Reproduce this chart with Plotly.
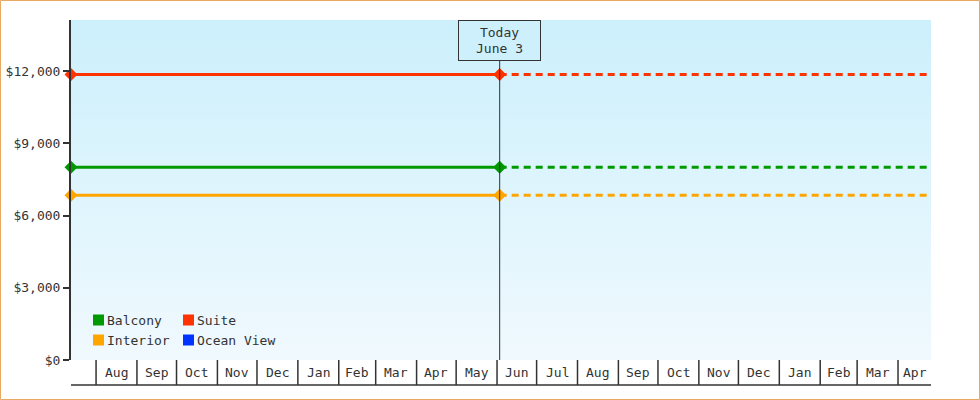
import base64
import pandas as pd
import plotly.graph_objects as go

# ---- data ----
categories = ["Balcony", "Suite", "Interior", "Ocean View"]
prices = [8000, 11860, 6840, None]
colors = ["#009900", "#ff3300", "#ffa500", "#0033ff"]
range_start = "2024-07-13"
today = "2025-06-03"
range_end = "2026-04-26"
today_label = "Today<br>June 3"
y_ticks = [0, 3000, 6000, 9000, 12000]
y_tick_labels = ["$0", "$3,000", "$6,000", "$9,000", "$12,000"]
y_max = 14120

# ---- layout geometry ----
W, H = 980, 400
ML, MR, MT, MB = 71, 49, 20, 40
PW, PH = W - ML - MR, H - MT - MB
FONT = "DejaVu Sans Mono"
DARK = "#333333"


def px_x(p):
    return (p - ML) / PW


def px_y(p):
    return (H - MB - p) / PH


fig = go.Figure()

for name, val, col in zip(categories, prices, colors):
    if val is None:
        continue
    fig.add_trace(go.Scatter(
        x=[range_start, today], y=[val, val], mode="lines+markers",
        line=dict(color=col, width=3), marker=dict(symbol="diamond", size=10, color=col),
        cliponaxis=False, showlegend=False, hoverinfo="skip"))
    fig.add_trace(go.Scatter(
        x=[today, range_end], y=[val, val], mode="lines",
        line=dict(color=col, width=3, dash="7px,5px"),
        cliponaxis=False, showlegend=False, hoverinfo="skip"))

shapes = []
annotations = []

# outer frame
shapes.append(dict(type="rect", xref="paper", yref="paper",
                   x0=px_x(0.5), x1=px_x(W - 0.5), y0=px_y(H - 0.5), y1=px_y(0.5),
                   line=dict(color="#e8a963", width=1), layer="below"))

# month band axis
rs, re_ = pd.Timestamp(range_start), pd.Timestamp(range_end)
month_starts = list(pd.date_range(rs, re_, freq="MS"))
edges = [rs] + month_starts + [re_]
band_h = 25 / PH
for m in month_starts:
    shapes.append(dict(type="line", xref="x", yref="paper", x0=m, x1=m,
                       y0=0, y1=-band_h, line=dict(color=DARK, width=1.5)))
shapes.append(dict(type="line", xref="paper", yref="paper", x0=0, x1=1,
                   y0=-band_h, y1=-band_h, line=dict(color=DARK, width=1.5)))
total_days = (re_ - rs).days
for a, b in zip(edges[:-1], edges[1:]):
    seg_px = (b - a).days / total_days * PW
    if seg_px < 30:
        continue
    mid = a + (b - a) / 2
    annotations.append(dict(x=mid, y=-band_h / 2, xref="x", yref="paper",
                            xanchor="center", yanchor="middle",
                            text=a.strftime("%b") if a.day == 1 else b.strftime("%b"),
                            showarrow=False, font=dict(family=FONT, size=13, color=DARK)))

# today line and box
shapes.append(dict(type="line", xref="x", yref="paper", x0=today, x1=today,
                   y0=0, y1=px_y(61), line=dict(color=DARK, width=1)))
annotations.append(dict(x=today, y=1, xref="x", yref="paper", xanchor="center", yanchor="top",
                        text=today_label, showarrow=False, width=79, height=37,
                        bgcolor="#cdf0fc", bordercolor=DARK, borderwidth=1, borderpad=1,
                        font=dict(family=FONT, size=13, color=DARK)))

# custom legend (2 columns)
leg_pos = [(93, 320), (183, 320), (93, 340), (183, 340)]
for (lx, ly), name, col in zip(leg_pos, categories, colors):
    shapes.append(dict(type="rect", xref="paper", yref="paper",
                       x0=px_x(lx), x1=px_x(lx + 11), y0=px_y(ly + 5.5), y1=px_y(ly - 5.5),
                       fillcolor=col, line=dict(width=0)))
    annotations.append(dict(x=px_x(lx + 12), y=px_y(ly), xref="paper", yref="paper",
                            xanchor="left", yanchor="middle", text=name, showarrow=False,
                            font=dict(family=FONT, size=13, color=DARK)))

# background gradient
svg = ('<svg xmlns="http://www.w3.org/2000/svg" width="100" height="100" preserveAspectRatio="none">'
       '<defs><linearGradient id="g" x1="0" y1="0" x2="0" y2="1">'
       '<stop offset="0" stop-color="#ccf0fc"/><stop offset="1" stop-color="#f0f9fe"/>'
       '</linearGradient></defs><rect width="100" height="100" fill="url(#g)"/></svg>')
src = "data:image/svg+xml;base64," + base64.b64encode(svg.encode()).decode()

fig.update_layout(
    width=W, height=H, margin=dict(l=ML, r=MR, t=MT, b=MB, autoexpand=False),
    paper_bgcolor="white", plot_bgcolor="white",
    showlegend=False,
    font=dict(family=FONT, size=13, color=DARK),
    images=[dict(source=src, xref="paper", yref="paper", x=0, y=1, sizex=1, sizey=1,
                 sizing="stretch", layer="below", xanchor="left", yanchor="top")],
    shapes=shapes, annotations=annotations,
    xaxis=dict(type="date", range=[range_start, range_end], showgrid=False, zeroline=False,
               showticklabels=False, ticks="", showline=False, fixedrange=True,
               automargin=False),
    yaxis=dict(range=[0, y_max], tickvals=y_ticks, ticktext=y_tick_labels, showgrid=False,
               zeroline=False, showline=True, linecolor=DARK, linewidth=2, ticks="outside",
               ticklen=6, tickwidth=2, tickcolor=DARK, ticklabelstandoff=0, automargin=False,
               tickfont=dict(family=FONT, size=13, color=DARK)),
)

fig.write_html("out.html")
